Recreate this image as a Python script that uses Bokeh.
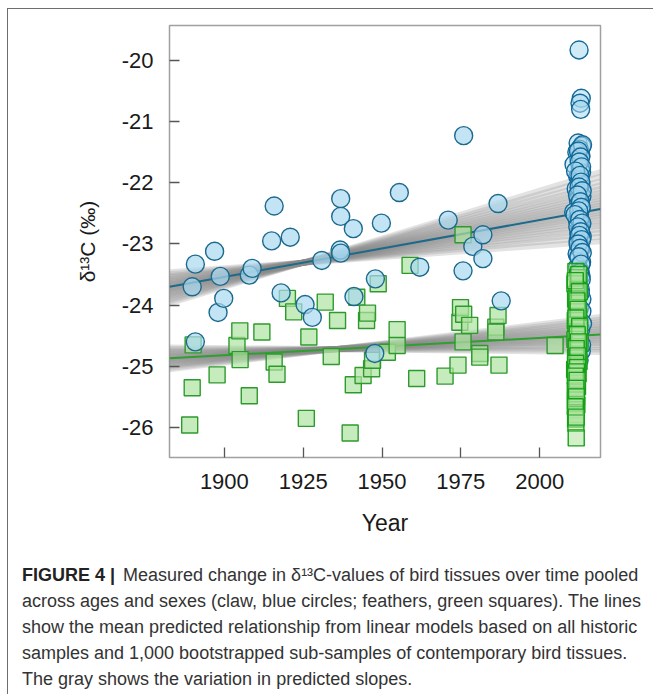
from bokeh.plotting import figure
from bokeh.models import Range1d, FixedTicker, Title
from bokeh.layouts import column
from bokeh.embed import file_html
from bokeh.resources import INLINE

# ---------------- data ----------------
claw_hist_year = [1889.8, 1890.8, 1890.8, 1896.9, 1898.0, 1898.7, 1899.8, 1907.9, 1908.8, 1915.0,
                  1915.8, 1918.0, 1920.9, 1925.6, 1927.9, 1930.9, 1936.7, 1936.9, 1936.9, 1936.9,
                  1940.9, 1941.1, 1947.7, 1947.9, 1949.8, 1955.5, 1962.0, 1971.0, 1975.7, 1975.9,
                  1978.8, 1982.0, 1982.0, 1986.8, 1987.8]
claw_hist_d13c = [-23.70, -23.33, -24.60, -23.12, -24.12, -23.53, -23.89, -23.51, -23.40, -22.95,
                  -22.38, -23.80, -22.89, -23.99, -24.20, -23.27, -23.10, -23.15, -22.26, -22.55,
                  -22.75, -23.86, -24.79, -23.57, -22.66, -22.16, -23.38, -22.61, -23.44, -21.23,
                  -23.04, -22.85, -23.24, -22.34, -23.93]

claw_contemp_year = [2012.5, 2013.2, 2012.8, 2013.0, 2012.2, 2013.4, 2012.6, 2011.8, 2013.1, 2012.4,
                     2010.9, 2012.9, 2013.3, 2012.1, 2012.7, 2013.0, 2011.6, 2012.5, 2013.4, 2012.3,
                     2012.8, 2013.1, 2010.8, 2012.6, 2012.0, 2013.2, 2012.9, 2012.4, 2013.5, 2012.2,
                     2012.7, 2013.0, 2011.9, 2012.5, 2013.3, 2012.1, 2012.8, 2013.1, 2012.4, 2012.9,
                     2013.4, 2012.6, 2012.2, 2013.0, 2012.7, 2013.2, 2012.5,
                     2013.6, 2012.3, 2013.0, 2012.6, 2013.3, 2011.4, 2012.8, 2013.1, 2012.5, 2013.5,
                     2012.0, 2012.9, 2013.2, 2012.4, 2011.2, 2012.7, 2013.4, 2012.1, 2013.0, 2012.6,
                     2013.3, 2012.2, 2012.8, 2013.5, 2012.4, 2013.1, 2012.7, 2013.2, 2012.9, 2013.4,
                     2013.6, 2013.3]
claw_contemp_d13c = [-19.83, -20.62, -20.70, -20.80, -21.35, -21.40, -21.45, -21.50, -21.56, -21.62,
                     -21.70, -21.76, -21.83, -21.90, -21.96, -22.03, -22.10, -22.16, -22.22, -22.28,
                     -22.35, -22.42, -22.48, -22.55, -22.62, -22.68, -22.75, -22.82, -22.88, -22.95,
                     -23.02, -23.09, -23.16, -23.23, -23.30, -23.37, -23.44, -23.52, -23.62, -23.75,
                     -23.90, -24.05, -24.22, -24.40, -24.58, -24.75, -24.90,
                     -21.38, -21.48, -21.58, -21.66, -21.74, -21.81, -21.88, -21.99, -22.07, -22.13,
                     -22.20, -22.31, -22.40, -22.46, -22.52, -22.60, -22.66, -22.72, -22.80, -22.86,
                     -22.93, -23.00, -23.07, -23.14, -23.21, -23.33, -23.47, -23.58, -23.80, -24.10,
                     -24.30, -24.65]

feather_hist_year = [1889.0, 1889.8, 1890.1, 1897.7, 1904.0, 1904.9, 1905.0, 1907.9, 1911.9, 1915.8,
                     1916.7, 1920.0, 1922.0, 1926.0, 1926.8, 1932.0, 1933.9, 1935.9, 1939.9, 1940.9,
                     1942.0, 1944.0, 1945.1, 1945.4, 1946.7, 1947.0, 1948.8, 1951.7, 1954.8, 1954.8,
                     1958.9, 1961.0, 1970.0, 1974.1, 1974.7, 1974.9, 1975.7, 1975.7, 1975.9, 1977.8,
                     1981.0, 1981.0, 1986.1, 1986.1, 1986.8, 1987.1, 2004.9]
feather_hist_d13c = [-25.96, -25.35, -24.65, -25.14, -24.66, -24.42, -24.89, -25.48, -24.44, -24.93,
                     -25.13, -23.89, -24.11, -25.85, -24.52, -23.95, -24.84, -24.25, -26.09, -25.30,
                     -23.87, -25.15, -24.25, -24.13, -25.04, -24.90, -23.65, -24.77, -24.40, -24.66,
                     -23.35, -25.20, -25.16, -24.98, -24.28, -24.04, -24.60, -22.85, -24.15, -24.33,
                     -24.79, -24.85, -24.36, -24.44, -24.17, -24.98, -24.66]

feather_contemp_year = [2011.5, 2012.0, 2011.2, 2012.3, 2011.8, 2011.4, 2012.1, 2011.6, 2011.9, 2012.4,
                        2011.3, 2011.7, 2012.6, 2011.5, 2012.0, 2011.2, 2012.8, 2011.6, 2011.9, 2012.3,
                        2011.4, 2012.5, 2011.7, 2011.1, 2012.2, 2011.8, 2011.5, 2012.0, 2011.3, 2011.6,
                        2011.4, 2011.8, 2011.5, 2011.6, 2011.4, 2011.5, 2011.6,
                        2012.4, 2011.3, 2012.6, 2011.8, 2012.2, 2011.5, 2012.7, 2011.9, 2012.3, 2011.6,
                        2012.1, 2011.4, 2012.0, 2011.7, 2011.3, 2011.9, 2011.5, 2011.7, 2011.3, 2011.6]
feather_contemp_d13c = [-23.45, -23.55, -23.65, -23.74, -23.82, -23.90, -23.97, -24.04, -24.11, -24.18,
                        -24.25, -24.32, -24.38, -24.44, -24.50, -24.56, -24.62, -24.68, -24.74, -24.80,
                        -24.86, -24.92, -24.98, -25.05, -25.12, -25.19, -25.26, -25.33, -25.40, -25.47,
                        -25.55, -25.63, -25.71, -25.79, -25.86, -25.93, -26.17,
                        -23.50, -23.60, -23.78, -23.93, -24.07, -24.21, -24.35, -24.48, -24.60, -24.71,
                        -24.83, -24.95, -25.02, -25.09, -25.16, -25.23, -25.36, -25.50, -25.66, -25.83]

# mean predicted relationship (linear models) at the ends of the year axis
fit_years = [1882.6, 2019.3]
claw_fit = [-23.70, -22.43]
feather_fit = [-24.87, -24.48]

# bootstrapped slope deviations (per year) around a pivot year
claw_pivot = 1925.0
claw_slope_dev = [-0.0056, -0.0048, -0.0041, -0.0035, -0.0029, -0.0024, -0.0019, -0.0014, -0.0010, -0.0006,
                  -0.0002, 0.0002, 0.0006, 0.0010, 0.0014, 0.0019, 0.0024, 0.0029, 0.0035, 0.0041,
                  0.0048, 0.0056, 0.0064]
feather_pivot = 1935.0
feather_slope_dev = [-0.0034, -0.0029, -0.0024, -0.0020, -0.0016, -0.0012, -0.0009, -0.0006, -0.0003, 0.0,
                     0.0003, 0.0006, 0.0009, 0.0012, 0.0016, 0.0020, 0.0024, 0.0029, 0.0034]

year_ticks = [1900, 1925, 1950, 1975, 2000]
d13c_ticks = [-26, -25, -24, -23, -22, -21, -20]

caption_bold = "FIGURE 4 |"
caption_lines = [
    "Measured change in δ¹³C-values of bird tissues over time pooled",
    "across ages and sexes (claw, blue circles; feathers, green squares). The lines",
    "show the mean predicted relationship from linear models based on all historic",
    "samples and 1,000 bootstrapped sub-samples of contemporary bird tissues.",
    "The gray shows the variation in predicted slopes.",
]

# ---------------- layout ----------------
W, H = 645, 685
FL, FR, FT, FB = 161, 592, 16, 448
X0, X1 = 1882.6, 2019.3
Y0, Y1 = -26.49, -19.43

p = figure(width=W, height=H, x_range=Range1d(X0, X1), y_range=Range1d(Y0, Y1),
           output_backend="svg", toolbar_location=None,
           min_border_left=FL, min_border_right=W - FR, min_border_top=FT, min_border_bottom=H - FB)
p.background_fill_color = "white"
p.border_fill_color = "white"
p.grid.visible = False
p.outline_line_color = "#a0a0a0"
p.outline_line_width = 1.5

LABEL_FONT = "Liberation Sans"
for ax in (p.xaxis[0], p.yaxis[0]):
    ax.axis_line_color = None
    ax.major_tick_in = 10
    ax.major_tick_out = 0
    ax.minor_tick_line_color = None
    ax.major_tick_line_color = "#555555"
    ax.major_tick_line_width = 1.3
    ax.major_label_text_font = LABEL_FONT
    ax.major_label_text_font_size = "22px"
    ax.major_label_text_color = "#1a1a1a"
    ax.axis_label_text_font = LABEL_FONT
    ax.axis_label_text_font_style = "normal"
    ax.axis_label_text_color = "#1a1a1a"

p.xaxis.ticker = FixedTicker(ticks=year_ticks)
p.yaxis.ticker = FixedTicker(ticks=d13c_ticks)
p.yaxis.major_label_overrides = {t: str(t) for t in d13c_ticks}
p.xaxis.major_label_overrides = {t: str(t) for t in year_ticks}
p.xaxis.axis_label = "Year"
p.yaxis.axis_label = "δ¹³C (‰)"
p.xaxis.axis_label_text_font_size = "23px"
p.yaxis.axis_label_text_font_size = "21px"
p.xaxis.major_label_standoff = 16
p.yaxis.major_label_standoff = 16
p.xaxis.axis_label_standoff = 18
p.yaxis.axis_label_standoff = 20


def fan(fit, pivot, devs):
    xs, ys = [], []
    for s in devs:
        xs.append(fit_years)
        ys.append([fit[i] + s * (fit_years[i] - pivot) for i in range(2)])
    return xs, ys


cx, cy = fan(claw_fit, claw_pivot, claw_slope_dev)
p.multi_line(cx, cy, line_color="#8c8c8c", line_alpha=0.24, line_width=6)
fx, fy = fan(feather_fit, feather_pivot, feather_slope_dev)
p.multi_line(fx, fy, line_color="#8c8c8c", line_alpha=0.24, line_width=6)

p.line(fit_years, claw_fit, line_color="#1d6a8a", line_width=2)
p.line(fit_years, feather_fit, line_color="#2f9f2f", line_width=2)

SQ_FILL, SQ_LINE = "#aee3a0", "#2e9a2e"
CI_FILL, CI_LINE = "#a9d8ef", "#1b6a8c"

p.scatter(feather_hist_year, feather_hist_d13c, marker="square", size=16,
          fill_color=SQ_FILL, fill_alpha=0.7, line_color=SQ_LINE, line_width=1.4)
p.scatter(claw_hist_year, claw_hist_d13c, marker="circle", size=18,
          fill_color=CI_FILL, fill_alpha=0.7, line_color=CI_LINE, line_width=1.4)
p.scatter(claw_contemp_year, claw_contemp_d13c, marker="circle", size=18,
          fill_color=CI_FILL, fill_alpha=0.55, line_color="#11699a", line_width=1.4)
p.scatter(feather_contemp_year, feather_contemp_d13c, marker="square", size=16,
          fill_color=SQ_FILL, fill_alpha=0.55, line_color="#17a017", line_width=1.4)

# ---------------- caption (stacked titles below the x axis) ----------------
CAP_FONT = "Liberation Sans"
CAP_SIZE = "18px"
LEFT_OFF = (22 - 8.5) - FL          # page x 22
ROW = 25.5                          # caption line spacing
ROW_BASE = 21.6                     # panel height of a caption title with zero standoff
ZERO = -60                          # standoff that collapses a title panel to zero height


def cap_title(text, standoff, offset, bold=False):
    return Title(text=text, align="left", vertical_align="middle", offset=offset, standoff=standoff,
                 text_font=CAP_FONT, text_font_size=CAP_SIZE,
                 text_font_style="bold" if bold else "normal",
                 text_color="#222222" if bold else "#333333")


p.add_layout(cap_title(" ", 36 - ROW_BASE, LEFT_OFF), "below")                 # gap under "Year"
p.add_layout(cap_title(caption_bold, ZERO, LEFT_OFF, bold=True), "below")      # row 1, bold part
p.add_layout(cap_title(caption_lines[0], ZERO, (123 - 8.5) - FL), "below")     # row 1, rest
p.add_layout(cap_title(" ", ROW / 2 - ROW_BASE, LEFT_OFF), "below")            # half-row gap
for line in caption_lines[1:]:
    p.add_layout(cap_title(line, ROW - ROW_BASE, LEFT_OFF), "below")

layout = column(p, spacing=0,
                styles={"margin-left": "7px", "margin-top": "8px",
                        "border-top": "1.5px solid #6e6e6e", "border-left": "1.5px solid #6e6e6e"})

open("out.html", "w").write(file_html(layout, INLINE))
